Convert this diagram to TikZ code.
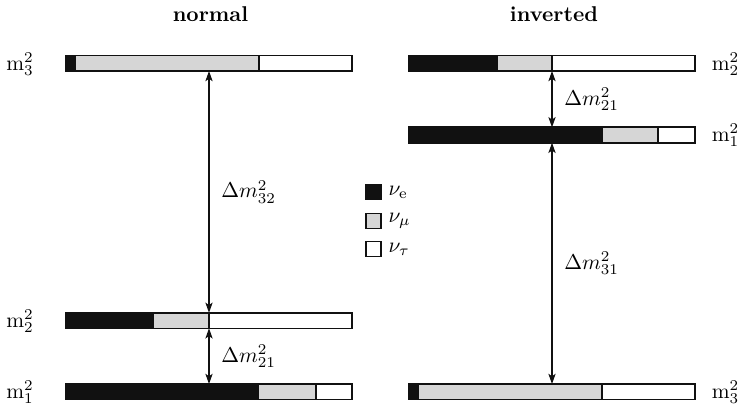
\documentclass[tikz,border=0pt]{standalone}
\usetikzlibrary{arrows.meta}
\definecolor{nblack}{HTML}{111111}
\definecolor{ngrey}{HTML}{D6D6D6}
\tikzset{
  seg/.style={draw=nblack, line width=0.75pt},
  arr/.style={{Stealth[length=4.8pt,width=3.4pt,inset=1.2pt]}-{Stealth[length=4.8pt,width=3.4pt,inset=1.2pt]}, line width=0.55pt, draw=nblack},
  dlbl/.style={right=5.5pt, inner sep=0pt},
  mlbl/.style={inner sep=0pt},
  legsq/.style={draw=nblack, line width=0.75pt, minimum size=7pt, inner sep=0pt},
  legtx/.style={right=3pt, inner sep=0pt},
  ttl/.style={inner sep=0pt, font=\bfseries}
}
% #1 top y, #2 left x, #3 black end, #4 grey end, #5 right x
\newcommand{\massbar}[5]{%
  \filldraw[seg, fill=nblack] (#2,#1) rectangle (#3,#1+15.5);
  \filldraw[seg, fill=ngrey] (#3,#1) rectangle (#4,#1+15.5);
  \filldraw[seg, fill=white] (#4,#1) rectangle (#5,#1+15.5);
  \draw[seg] (#2,#1) rectangle (#5,#1+15.5);
}
\begin{document}
\begin{tikzpicture}[x=0.4675pt, y=-0.4675pt]
\useasboundingbox (0,0) rectangle (739,407);
% titles
\node[ttl] (tn) at (210.5,14) {normal};
\node[ttl] (ti) at (554,14) {inverted};
% normal ordering bars
\massbar{55.5}{66}{75}{259}{352}
\massbar{312.8}{66}{153}{209}{352}
\massbar{384}{66}{258}{316}{352}
% inverted ordering bars
\massbar{55.5}{409}{497}{552}{695}
\massbar{127.3}{409}{602}{658}{695}
\massbar{384}{409}{418}{602}{695}
% mass labels
\node[mlbl] (l3) at (20,64) {$\mathrm{m}_3^2$};
\node[mlbl] (l2) at (20,321) {$\mathrm{m}_2^2$};
\node[mlbl] (l1) at (20,392) {$\mathrm{m}_1^2$};
\node[mlbl] (r2) at (725.5,64) {$\mathrm{m}_2^2$};
\node[mlbl] (r1) at (725.5,135.5) {$\mathrm{m}_1^2$};
\node[mlbl] (r3) at (725.5,392) {$\mathrm{m}_3^2$};
% arrow endpoints
\coordinate (L3b) at (209,71);
\coordinate (L2t) at (209,312.8);
\coordinate (L2b) at (209,328.3);
\coordinate (L1t) at (209,384);
\coordinate (R2b) at (552,71);
\coordinate (R1t) at (552,127.3);
\coordinate (R1b) at (552,142.8);
\coordinate (R3t) at (552,384);
\draw[arr] (L3b) -- node[dlbl] (d32) {$\Delta m^2_{32}$} (L2t);
\draw[arr] (L2b) -- node[dlbl] (d21l) {$\Delta m^2_{21}$} (L1t);
\draw[arr] (R2b) -- node[dlbl] (d21r) {$\Delta m^2_{21}$} (R1t);
\draw[arr] (R1b) -- node[dlbl] (d31) {$\Delta m^2_{31}$} (R3t);
% legend
\node[legsq, fill=nblack] (ke) at (373.5,192) {};
\node[legsq, fill=ngrey] (km) at (373.5,221) {};
\node[legsq, fill=white] (kt) at (373.5,249) {};
\node[legtx] (te) at (ke.east) {$\nu_{\mathrm{e}}$};
\node[legtx] (tm) at (km.east) {$\nu_{\mu}$};
\node[legtx] (tt) at (kt.east) {$\nu_{\tau}$};
\end{tikzpicture}
\end{document}
